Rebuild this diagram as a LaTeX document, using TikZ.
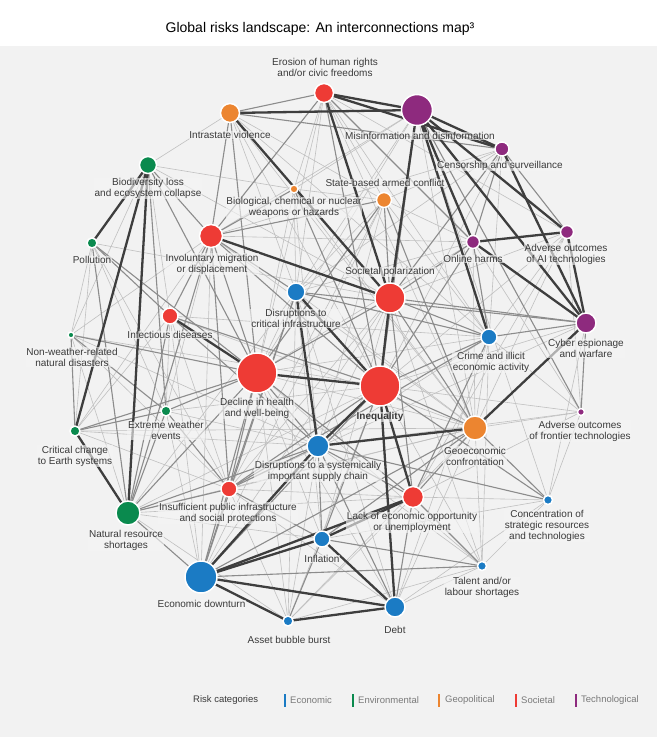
\documentclass[tikz,border=0pt]{standalone}
\usepackage{fontspec}
\setmainfont{Liberation Sans}
\definecolor{cEco}{HTML}{1B7BC4}
\definecolor{cEnv}{HTML}{0A8A4E}
\definecolor{cGeo}{HTML}{EC8530}
\definecolor{cSoc}{HTML}{EE3B35}
\definecolor{cTec}{HTML}{8E2A7E}
\definecolor{bgGray}{HTML}{F2F2F2}
\definecolor{haloC}{HTML}{F5F5F5}
\definecolor{txtC}{HTML}{3A3A3A}
\definecolor{legC}{HTML}{7A7A7A}
\definecolor{eThick}{HTML}{3E3E3E}
\definecolor{eMed}{HTML}{8C8C8C}
\definecolor{eThin}{HTML}{C0C0C0}
\pgfdeclarelayer{back}
\pgfdeclarelayer{edges}
\pgfsetlayers{back,edges,main}
\tikzset{
  risk/.style={circle, draw=white, line width=1.5pt, inner sep=0pt, outer sep=0pt},
  rEco/.style={risk, fill=cEco},
  rEnv/.style={risk, fill=cEnv},
  rGeo/.style={risk, fill=cGeo},
  rSoc/.style={risk, fill=cSoc},
  rTec/.style={risk, fill=cTec},
  lbl/.style={font=\fontsize{10}{11}\selectfont, text=txtC, align=center, inner sep=0.8pt,
    fill=haloC, fill opacity=0.62, text opacity=1},
  tk/.style={draw=eThick, line width=2.3pt},
  md/.style={draw=eMed, line width=1.1pt},
  tn/.style={draw=eThin, line width=0.6pt},
  legbar/.style={inner sep=0pt, minimum width=2.4pt, minimum height=13pt},
  legtxt/.style={anchor=west, inner sep=0pt, font=\fontsize{9.5}{11}\selectfont, text=legC}
}
\begin{document}
\begin{tikzpicture}[x=1pt,y=-1pt]
\useasboundingbox (0,0) rectangle (657,737);
\begin{pgfonlayer}{back}
\fill[white] (0,0) rectangle (657,737);
\fill[bgGray] (0,46) rectangle (657,737);
\end{pgfonlayer}

\node (title) at (320,29) {\fontsize{14}{16}\selectfont Global risks landscape: An interconnections map³};

% risk nodes
\node[rSoc, minimum size=19pt] (ero) at (324,93) {};
\node[rGeo, minimum size=19pt] (iv) at (230,113) {};
\node[rTec, minimum size=31pt] (mis) at (417,110) {};
\node[rTec, minimum size=14pt] (cen) at (502,149) {};
\node[rEnv, minimum size=17pt] (bio) at (148,165) {};
\node[rGeo, minimum size=8pt] (bcn) at (294,189) {};
\node[rGeo, minimum size=15pt] (sbc) at (384,200) {};
\node[rTec, minimum size=13pt] (onl) at (473,242) {};
\node[rTec, minimum size=13pt] (ai) at (567,232) {};
\node[rEnv, minimum size=10pt] (pol) at (92,243) {};
\node[rSoc, minimum size=23pt] (inv) at (211,236) {};
\node[rSoc, minimum size=30pt] (sp) at (390,298) {};
\node[rEco, minimum size=18pt] (dci) at (296,292) {};
\node[rSoc, minimum size=16pt] (inf) at (170,316) {};
\node[rEnv, minimum size=6pt] (nwd) at (71,335) {};
\node[rEco, minimum size=16pt] (cri) at (489,337) {};
\node[rTec, minimum size=20pt] (cyb) at (586,323) {};
\node[rSoc, minimum size=40pt] (dec) at (257,373) {};
\node[rSoc, minimum size=40pt] (ineq) at (380,386) {};
\node[rEnv, minimum size=10pt] (ext) at (166,411) {};
\node[rEnv, minimum size=10pt] (cce) at (75,431) {};
\node[rTec, minimum size=7pt] (aft) at (581,412) {};
\node[rGeo, minimum size=24pt] (gec) at (475,428) {};
\node[rEco, minimum size=22pt] (sup) at (318,446) {};
\node[rSoc, minimum size=16pt] (ins) at (229,489) {};
\node[rEnv, minimum size=24pt] (nrs) at (128,513) {};
\node[rSoc, minimum size=21pt] (lack) at (413,497) {};
\node[rEco, minimum size=9pt] (con) at (548,500) {};
\node[rEco, minimum size=16pt] (infl) at (322,539) {};
\node[rEco, minimum size=9pt] (tal) at (482,566) {};
\node[rEco, minimum size=32pt] (ecd) at (201,577) {};
\node[rEco, minimum size=20pt] (debt) at (395,607) {};
\node[rEco, minimum size=10pt] (abb) at (288,621) {};

% connectors
\begin{pgfonlayer}{edges}
\foreach \a/\b in {ero/bcn, ero/sbc, ero/dci, ero/dec, ero/cri, ero/gec, ero/ai, iv/sbc, iv/ineq, iv/dci, iv/gec, iv/cri, iv/bio, mis/dci, mis/inv, mis/bcn, mis/dec, mis/gec, mis/con, cen/dci, cen/inv, cen/ineq, cen/cri, cen/sbc, bio/bcn, bio/sp, bio/inf, bio/nwd, bcn/sbc, bcn/dci, bcn/sup, bcn/dec, bcn/gec, sbc/sup, sbc/onl, sbc/dci, sbc/cri, sbc/ecd, sbc/ins, onl/dec, onl/dci, onl/gec, onl/aft, onl/inv, ai/sp, ai/ineq, ai/gec, ai/aft, ai/cri, ai/lack, pol/nwd, pol/cce, pol/ext, pol/ins, pol/sp, inv/cce, inv/ext, inv/gec, inv/ecd, sp/ins, sp/ecd, sp/sup, sp/tal, sp/infl, dci/dec, dci/infl, dci/debt, dci/abb, dci/nrs, dci/gec, inf/ext, inf/ins, inf/ecd, inf/cce, inf/cri, inf/gec, nwd/nrs, nwd/ins, nwd/sup, nwd/inv, nwd/ineq, cri/gec, cri/debt, cri/tal, cri/sup, cri/aft, cyb/con, cyb/ins, cyb/ineq, dec/gec, dec/cri, dec/infl, dec/abb, dec/tal, dec/debt, ineq/tal, ineq/abb, ineq/ext, ineq/nrs, ineq/aft, ext/sup, ext/ecd, cce/ins, cce/sup, cce/gec, aft/gec, aft/con, aft/sup, aft/lack, gec/debt, gec/tal, gec/nrs, gec/ins, gec/abb, sup/tal, sup/abb, ins/lack, ins/debt, ins/abb, nrs/abb, nrs/infl, nrs/lack, lack/con, lack/abb, con/tal, con/infl, con/debt, tal/debt, tal/abb}
  \draw[tn] (\a) -- (\b);
\foreach \a/\b in {ero/iv, ero/inv, ero/ineq, ero/onl, iv/inv, iv/dec, iv/cen, mis/ineq, mis/aft, cen/onl, cen/ai, cen/sp, sbc/gec, sbc/inv, sbc/dec, sbc/sp, bcn/ineq, bcn/inv, onl/sp, onl/cri, onl/ineq, cyb/cri, cyb/dci, cyb/sp, cyb/aft, sp/cri, sp/gec, sp/lack, sp/dec, inv/inf, inv/nrs, inv/ins, inv/ineq, inv/dci, inv/dec, pol/nrs, pol/dec, pol/inf, nwd/cce, nwd/dec, nwd/ext, inf/ineq, inf/nrs, inf/sup, ext/nrs, ext/dec, ext/cce, ext/ins, dec/ins, dec/lack, dec/sup, dec/nrs, dec/ecd, ineq/ecd, ineq/ins, ineq/gec, ineq/cri, ineq/con, ineq/infl, gec/lack, gec/con, gec/ecd, gec/infl, sup/infl, sup/lack, sup/debt, sup/ins, sup/con, lack/tal, lack/debt, infl/tal, infl/abb, infl/ins, ecd/tal, ecd/ins, ecd/nrs, cri/dci, cri/lack, cri/ins, dci/ins, dci/ecd, cce/dec, bio/inv, bio/ext, bio/dec, nrs/sup, nrs/ins}
  \draw[md] (\a) -- (\b);
\foreach \a/\b in {ero/mis, ero/cen, ero/sp, iv/mis, iv/sp, mis/cen, mis/sp, mis/onl, mis/cri, mis/ai, mis/cyb, cen/cyb, onl/ai, onl/cyb, ai/cyb, sp/ineq, dec/ineq, inf/dec, inv/sp, bio/nrs, bio/pol, bio/cce, cce/nrs, ecd/infl, ecd/debt, ecd/abb, ecd/sup, ecd/lack, infl/debt, abb/debt, ineq/debt, ineq/lack, sup/gec, sup/ineq, gec/cyb, dci/sup, dci/ineq, lack/infl}
  \draw[tk] (\a) -- (\b);
\end{pgfonlayer}

% labels
\node[lbl] (ero-l) at (325,67.5) {Erosion of human rights\\and/or civic freedoms};
\node[lbl] (iv-l) at (230,135) {Intrastate violence};
\node[lbl] (mis-l) at (420,136) {Misinformation and disinformation};
\node[lbl] (cen-l) at (500,166) {Censorship and surveillance};
\node[lbl] (bio-l) at (148,188.5) {Biodiversity loss\\and ecosystem collapse};
\node[lbl] (bcn-l) at (294,207.5) {Biological, chemical or nuclear\\weapons or hazards};
\node[lbl] (sbc-l) at (385,183) {State-based armed conflict};
\node[lbl] (onl-l) at (473,259) {Online harms};
\node[lbl] (ai-l) at (566,254) {Adverse outcomes\\of AI technologies};
\node[lbl] (pol-l) at (92,260) {Pollution};
\node[lbl] (inv-l) at (212,264) {Involuntary migration\\or displacement};
\node[lbl] (sp-l) at (390,272) {Societal polarization};
\node[lbl] (dci-l) at (296,318.5) {Disruptions to\\critical infrastructure};
\node[lbl] (inf-l) at (170,335) {Infectious diseases};
\node[lbl] (nwd-l) at (72,357) {Non-weather-related\\natural disasters};
\node[lbl] (cri-l) at (491,362.5) {Crime and illicit\\economic activity};
\node[lbl] (cyb-l) at (586,348.5) {Cyber espionage\\and warfare};
\node[lbl] (dec-l) at (257,408.5) {Decline in health\\and well-being};
\node[lbl, font=\fontsize{10}{11}\selectfont\bfseries] (ineq-l) at (380,417) {Inequality};
\node[lbl] (ext-l) at (166,430.5) {Extreme weather\\events};
\node[lbl] (cce-l) at (75,456) {Critical change\\to Earth systems};
\node[lbl] (aft-l) at (580,431) {Adverse outcomes\\of frontier technologies};
\node[lbl] (gec-l) at (475,456) {Geoeconomic\\confrontation};
\node[lbl] (sup-l) at (318,471.5) {Disruptions to a systemically\\important supply chain};
\node[lbl] (ins-l) at (228,513) {Insufficient public infrastructure\\and social protections};
\node[lbl] (nrs-l) at (126,540.5) {Natural resource\\shortages};
\node[lbl] (lack-l) at (412,522.5) {Lack of economic opportunity\\or unemployment};
\node[lbl] (con-l) at (547,526) {Concentration of\\strategic resources\\and technologies};
\node[lbl] (infl-l) at (322,559) {Inflation};
\node[lbl] (tal-l) at (482,587.5) {Talent and/or\\labour shortages};
\node[lbl] (ecd-l) at (201.5,604) {Economic downturn};
\node[lbl] (debt-l) at (395,630) {Debt};
\node[lbl] (abb-l) at (289,640) {Asset bubble burst};

% legend
\node[anchor=west, inner sep=0pt, font=\fontsize{9.5}{11}\selectfont, text=txtC] (leg) at (193,700) {Risk categories};
\node[legbar, fill=cEco] (legEcoB) at (285,700) {};
\node[legtxt] (legEco) at (290,700) {Economic};
\node[legbar, fill=cEnv] (legEnvB) at (353,700) {};
\node[legtxt] (legEnv) at (358,700) {Environmental};
\node[legbar, fill=cGeo] (legGeoB) at (439,700) {};
\node[legtxt] (legGeo) at (445,700) {Geopolitical};
\node[legbar, fill=cSoc] (legSocB) at (516,700) {};
\node[legtxt] (legSoc) at (521,700) {Societal};
\node[legbar, fill=cTec] (legTecB) at (576,700) {};
\node[legtxt] (legTec) at (581,700) {Technological};
\end{tikzpicture}
\end{document}
